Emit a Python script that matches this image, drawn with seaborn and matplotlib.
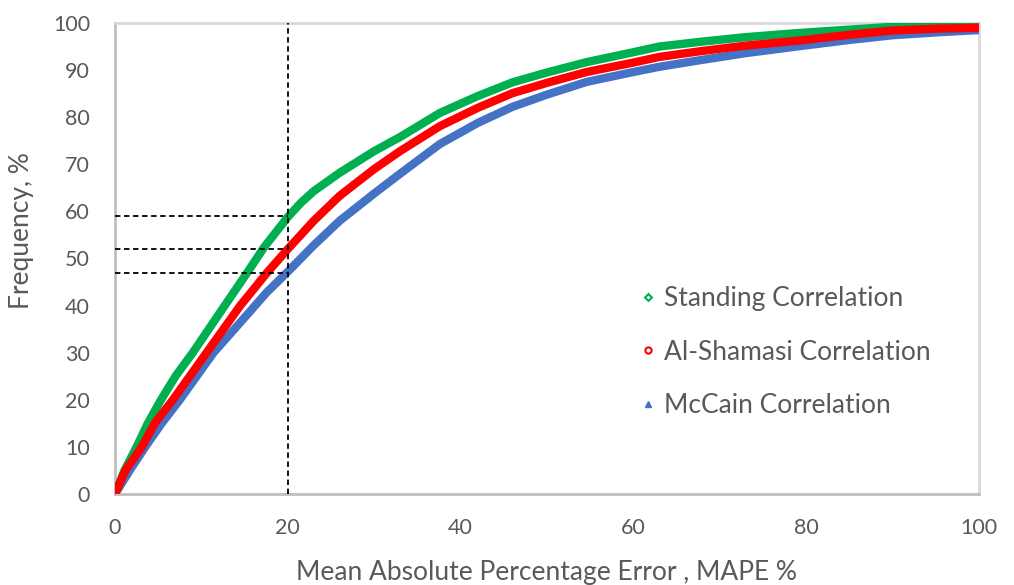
import numpy as np
import pandas as pd
import matplotlib
matplotlib.use("Agg")
import matplotlib.pyplot as plt
from matplotlib.lines import Line2D
from matplotlib.ticker import MultipleLocator
import seaborn as sns

# ---- data ----
standing_x = [0, 1.1, 2.5, 3.8, 5.2, 7, 9, 12.7, 15.3, 17.3, 20, 21.5, 23, 26, 30, 33, 37.6,
              42, 46, 50, 54.6, 60, 63, 67.7, 73, 79.3, 85, 90, 95, 100]
standing_y = [0, 5, 10, 15, 19.6, 25, 30, 40, 47, 52.5, 58.8, 61.8, 64.3, 68.2, 72.8, 75.8, 80.9,
              84.5, 87.4, 89.5, 91.7, 93.8, 95, 96, 97, 97.9, 98.6, 99.2, 99.4, 99.6]

shamasi_x = [0, 1.2, 3.1, 4.6, 6.7, 10.6, 14.5, 17.6, 20, 23, 26, 30, 33, 37.6,
             42, 46, 50, 54.6, 60, 63, 67.7, 73, 79.3, 85, 90, 95, 100]
shamasi_y = [0, 5, 10, 15, 20, 30, 40, 47, 52, 58, 63.3, 69, 72.8, 78.1,
             82, 85.1, 87.3, 89.6, 91.6, 92.8, 94, 95.2, 96.3, 97.5, 98.4, 98.8, 99]

mccain_x = [0, 1.7, 3.5, 5.4, 7.5, 11.4, 15.5, 17.5, 20, 23, 26, 30, 33, 37.6,
            42, 46, 50, 54.6, 60, 63, 67.7, 73, 79.3, 85, 90, 95, 100]
mccain_y = [0, 5, 10, 15, 20, 30, 38.5, 42.7, 47.2, 52.8, 58, 63.8, 68, 74.3,
            78.8, 82.2, 84.8, 87.5, 89.6, 90.7, 92.1, 93.6, 95.1, 96.4, 97.4, 98, 98.5]

series_names = ["Standing Correlation", "Al-Shamasi Correlation", "McCain Correlation"]
series_colors = ["#00B050", "#FF0000", "#4472C4"]

ref_x = 20
ref_levels = [59, 52, 47]

df = pd.concat([
    pd.DataFrame({"x": standing_x, "y": standing_y, "series": series_names[0]}),
    pd.DataFrame({"x": shamasi_x, "y": shamasi_y, "series": series_names[1]}),
    pd.DataFrame({"x": mccain_x, "y": mccain_y, "series": series_names[2]}),
], ignore_index=True)

# ---- style ----
sns.set_style("white")
plt.rcParams["font.family"] = ["Lato", "DejaVu Sans"]
text_color = "#595959"
axis_color = "#BFBFBF"

fig = plt.figure(figsize=(10.14, 5.85), dpi=100)
ax = fig.add_axes([115 / 1014, 91 / 585, 864 / 1014, 471 / 585])

palette = dict(zip(series_names, series_colors))
# draw order: blue, green, red on top
for name in [series_names[2], series_names[0], series_names[1]]:
    sns.lineplot(data=df[df["series"] == name], x="x", y="y", color=palette[name],
                 linewidth=6, sort=False, ax=ax, legend=False,
                 solid_capstyle="round", solid_joinstyle="round", zorder=3)

# reference dashed lines
ax.plot([ref_x, ref_x], [0, 100], color="black", linestyle=(0, (3, 2)), linewidth=1.3, zorder=4)
for lv in ref_levels:
    ax.plot([0, ref_x], [lv, lv], color="black", linestyle=(0, (3, 2)), linewidth=1.3, zorder=4)

ax.set_xlim(0, 100)
ax.set_ylim(0, 100)
ax.xaxis.set_major_locator(MultipleLocator(20))
ax.xaxis.set_minor_locator(MultipleLocator(4))
ax.yaxis.set_major_locator(MultipleLocator(10))
ax.yaxis.set_minor_locator(MultipleLocator(2))

ax.tick_params(axis="both", which="major", direction="inout", length=12, width=1.5,
               color=axis_color, labelsize=15.5, labelcolor=text_color)
ax.tick_params(axis="x", which="major", pad=11)
ax.tick_params(axis="y", which="major", pad=12)
ax.tick_params(axis="both", which="minor", direction="in", length=4.5, width=1.5, color=axis_color)

for side in ["left", "bottom"]:
    ax.spines[side].set_color(axis_color)
    ax.spines[side].set_linewidth(2)
for side in ["top", "right"]:
    ax.spines[side].set_color("#D9D9D9")
    ax.spines[side].set_linewidth(2)

ax.set_xlabel("Mean Absolute Percentage Error , MAPE %", fontsize=19, color=text_color)
ax.set_ylabel("Frequency, %", fontsize=19, color=text_color)
ax.xaxis.set_label_coords(0.5, -0.14)
ax.yaxis.set_label_coords(-0.094, 0.56)

handles = [
    Line2D([], [], linestyle="none", marker="D", markersize=3.5, markerfacecolor="white",
           markeredgecolor=series_colors[0], markeredgewidth=1.5),
    Line2D([], [], linestyle="none", marker="o", markersize=4.5, markerfacecolor="white",
           markeredgecolor=series_colors[1], markeredgewidth=1.5),
    Line2D([], [], linestyle="none", marker="^", markersize=5, markerfacecolor=series_colors[2],
           markeredgecolor=series_colors[2]),
]
leg = ax.legend(handles, series_names, loc="upper left",
                bbox_to_anchor=(640 / 1014, 1 - 286 / 585), bbox_transform=fig.transFigure,
                frameon=False, fontsize=19, handlelength=0.6, handletextpad=0.3,
                labelspacing=1.08, borderpad=0, borderaxespad=0)
for t in leg.get_texts():
    t.set_color(text_color)

fig.savefig("out.png", dpi=100)
